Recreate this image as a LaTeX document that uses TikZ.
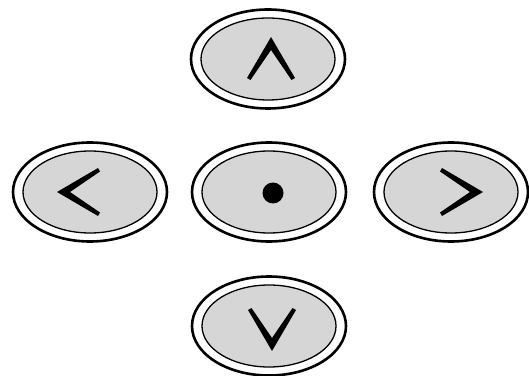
\documentclass[tikz,border=0pt]{standalone}
\usetikzlibrary{shapes.geometric}
\begin{document}
\begin{tikzpicture}[x=1pt,y=1pt,
  outerbtn/.style={ellipse,draw=black,line width=2.6pt,fill=white,minimum width=154pt,minimum height=99pt,inner sep=0pt},
  innerbtn/.style={ellipse,draw=black,line width=1.3pt,fill=btngray,minimum width=134pt,minimum height=82pt,inner sep=0pt},
  chevpic/.pic={\fill[black,line join=miter] (-24,-18) -- (0,23) -- (24,-18) -- (20.5,-20) -- (0,10) -- (-20.5,-20) -- cycle;}]
\definecolor{btngray}{RGB}{214,214,214}
\useasboundingbox (0,0) rectangle (529,375);
% buttons
\node[outerbtn] (up) at (268,316) {};
\node[innerbtn] (upi) at (up) {};
\node[outerbtn] (left) at (90,183) {};
\node[innerbtn] (lefti) at (left) {};
\node[outerbtn] (mid) at (269,183) {};
\node[innerbtn] (midi) at (mid) {};
\node[outerbtn] (right) at (451,183) {};
\node[innerbtn] (righti) at (right) {};
\node[outerbtn] (down) at (269,49) {};
\node[innerbtn] (downi) at (down) {};
% symbols
\pic at ([shift={(3,-1)}]up.center) {chevpic};
\pic[rotate=90] at ([shift={(-10,0)}]left.center) {chevpic};
\pic[rotate=-90] at ([shift={(9,0)}]right.center) {chevpic};
\pic[rotate=180] at ([shift={(3,-2)}]down.center) {chevpic};
\fill[black] ([shift={(4,-1)}]mid.center) circle (10.5);
\end{tikzpicture}
\end{document}
